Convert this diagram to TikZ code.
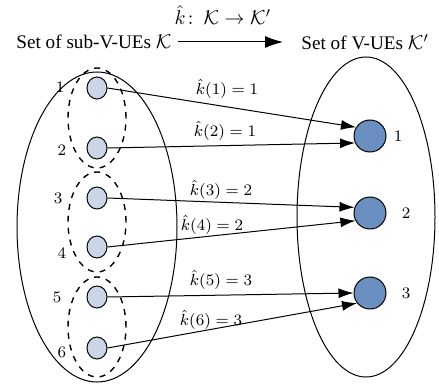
\documentclass[tikz,border=0pt]{standalone}
\usepackage{amsmath,amssymb}
\usepackage{fontspec}
\setmainfont{Liberation Serif}
\usepackage{tikz}
\usetikzlibrary{positioning,arrows.meta,calc,shapes.geometric}
\usepackage{xcolor}
\definecolor{subfill}{HTML}{CAD6E6}
\definecolor{vuefill}{HTML}{6B8FC0}

\begin{document}
\begin{tikzpicture}[
  x=0.5pt, y=-0.5pt,
  font=\fontsize{9.6pt}{11.5pt}\selectfont,
  >=Latex,
  set/.style={draw, ellipse, inner sep=0pt, line width=0.5pt},
  grp/.style={draw, ellipse, dashed, inner sep=0pt, line width=0.7pt, minimum width=29pt, minimum height=50pt},
  sub/.style={draw, ellipse, fill=subfill, inner sep=0pt, minimum width=10pt, minimum height=11pt, line width=0.5pt},
  vue/.style={draw, circle, fill=vuefill, inner sep=0pt, minimum size=16pt, line width=0.5pt},
  num/.style={font=\footnotesize},
  lab/.style={font=\footnotesize},
  arr/.style={-{Latex[length=7.5pt,width=5pt]}, line width=0.5pt},
]
\useasboundingbox (0,0) rectangle (439,390);

% Title row
\node[anchor=west, inner sep=1pt] (setK) at (14,42) {Set of sub-V-UEs $\mathcal{K}$};
\node[anchor=west, inner sep=1pt] (setKp) at (299,42) {Set of V-UEs $\mathcal{K}'$};
\node (map) at (223,15) {$\hat{k}\colon\, \mathcal{K} \rightarrow \mathcal{K}'$};
\draw[-{Latex[length=9pt,width=6pt]}, line width=0.5pt, shorten <=2pt, shorten >=8pt] (setK.east) -- (setKp.west);

% Sets
\node[set, minimum width=80pt, minimum height=155pt] (left) at (97,227) {};
\node[set, minimum width=69pt, minimum height=160pt] (right) at (366,217) {};

% Groups of sub-V-UEs
\node[grp] (g1) at (97,118) {};
\node[grp] (g2) at (97,222) {};
\node[grp] (g3) at (97,327) {};

% Sub-V-UEs
\node[sub] (s1) at (97,88) {};
\node[sub] (s2) at (97,148) {};
\node[sub] (s3) at (97,198) {};
\node[sub] (s4) at (97,247) {};
\node[sub] (s5) at (97,297) {};
\node[sub] (s6) at (97,348) {};

\node[num] (n1) at (60,87) {$1$};
\node[num] (n2) at (62,150) {$2$};
\node[num] (n3) at (58,198) {$3$};
\node[num] (n4) at (62,253) {$4$};
\node[num] (n5) at (57,297) {$5$};
\node[num] (n6) at (62,352) {$6$};

% V-UEs
\node[vue] (v1) at (370,136) {};
\node[vue] (v2) at (370,213) {};
\node[vue] (v3) at (370,293) {};

\node[num] (m1) at (398,136) {$1$};
\node[num] (m2) at (406,213) {$2$};
\node[num] (m3) at (406,293) {$3$};

% Mapping
\draw[arr] (s1.east) -- (v1.148);
\draw[arr] (s2.east) -- (v1.205);
\draw[arr] (s3.east) -- (v2.160);
\draw[arr] (s4.east) -- (v2.208);
\draw[arr] (s5.east) -- (v3.180);
\draw[arr] (s6.east) -- (v3.218);

\node[lab] (l1) at (227,89) {$\hat{k}(1) = 1$};
\node[lab] (l2) at (225,131) {$\hat{k}(2) = 1$};
\node[lab] (l3) at (221,190) {$\hat{k}(3) = 2$};
\node[lab] (l4) at (212,225) {$\hat{k}(4) = 2$};
\node[lab] (l5) at (221,280) {$\hat{k}(5) = 3$};
\node[lab] (l6) at (211,320) {$\hat{k}(6) = 3$};

\end{tikzpicture}
\end{document}
